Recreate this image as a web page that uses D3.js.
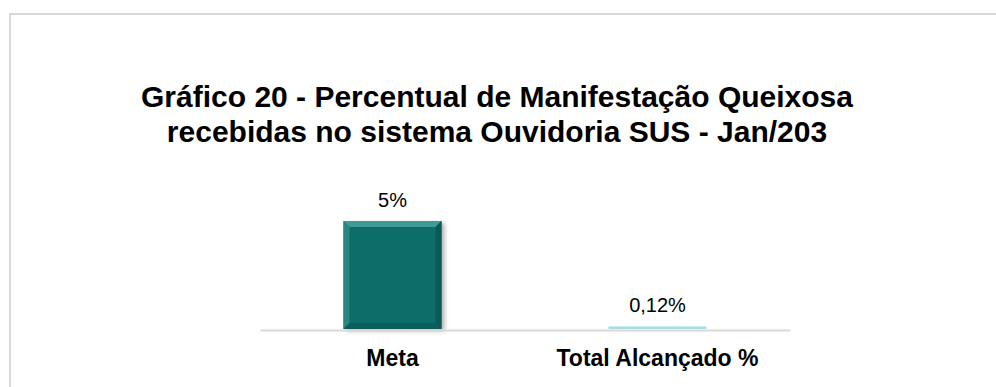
<!DOCTYPE html>
<html>
<head>
<meta charset="utf-8">
<script src="https://cdn.jsdelivr.net/npm/d3@7"></script>
<style>
  body { margin: 0; background: #fff; }
  text { font-family: "Liberation Sans", Arial, sans-serif; }
</style>
</head>
<body>
<script>
var categories = ["Meta", "Total Alcançado %"];
var values = [5, 0.12];
var valueLabels = ["5%", "0,12%"];
var titleLines = ["Gráfico 20 - Percentual de Manifestação Queixosa",
                  "recebidas no sistema Ouvidoria SUS - Jan/203"];

var w = 996, h = 387;

var svg = d3.select("body").append("svg")
    .attr("width", w)
    .attr("height", h);

var defs = svg.append("defs");
var f = defs.append("filter").attr("id", "shadow")
    .attr("x", "-20%").attr("y", "-20%").attr("width", "140%").attr("height", "140%");
f.append("feDropShadow").attr("dx", 3).attr("dy", 2).attr("stdDeviation", 2)
    .attr("flood-color", "#000").attr("flood-opacity", 0.3);

// chart border (runs off the right/bottom)
svg.append("rect")
    .attr("x", 10).attr("y", 14)
    .attr("width", 1000).attr("height", 400)
    .attr("fill", "none")
    .attr("stroke", "#d9d9d9")
    .attr("stroke-width", 2);

svg.append("g").selectAll("text")
    .data(titleLines)
  .enter().append("text")
    .attr("x", 497)
    .attr("y", function(d, i) { return 107 + i * 35; })
    .attr("text-anchor", "middle")
    .style("font-size", "30px")
    .style("font-weight", "bold")
    .attr("fill", "#000")
    .text(function(d) { return d; });

var x = d3.scaleBand()
    .domain(categories)
    .range([260, 790])
    .paddingInner(0.63)
    .paddingOuter(0.315);

var y = d3.scaleLinear()
    .domain([0, 6])
    .range([329, 329 - 108 * 6 / 5]);

var bars = svg.append("g").selectAll("g.bar")
    .data(values)
  .enter().append("g")
    .attr("class", "bar");

bars.append("rect")
    .attr("x", function(d, i) { return x(categories[i]); })
    .attr("y", function(d) { return y(d); })
    .attr("width", x.bandwidth())
    .attr("height", function(d) { return Math.max(1.5, y(0) - y(d)); })
    .attr("fill", function(d, i) { return i == 0 ? "#0f6e69" : "#a9dbe6"; })
    .attr("filter", function(d, i) { return i == 0 ? "url(#shadow)" : null; });

// bevel edges on the big bar
var bev = 6;
var big = bars.filter(function(d) { return y(0) - y(d) > 20; });
function bevel(d, side) {
  var x0 = x(categories[values.indexOf(d)]), x1 = x0 + x.bandwidth(),
      y0 = y(d), y1 = y(0);
  if (side == "top") return [[x0, y0], [x1, y0], [x1 - bev, y0 + bev], [x0 + bev, y0 + bev]];
  if (side == "left") return [[x0, y0], [x0 + bev, y0 + bev], [x0 + bev, y1 - bev], [x0, y1]];
  if (side == "right") return [[x1, y0], [x1 - bev, y0 + bev], [x1 - bev, y1 - bev], [x1, y1]];
  return [[x0, y1], [x0 + bev, y1 - bev], [x1 - bev, y1 - bev], [x1, y1]];
}
[["top", "#3d9a94"], ["left", "#2a8680"], ["right", "#0a5954"], ["bottom", "#0b5e59"]].forEach(function(s) {
  big.append("polygon")
      .attr("points", function(d) { return bevel(d, s[0]).join(" "); })
      .attr("fill", s[1]);
});

bars.append("text")
    .attr("x", function(d, i) { return x(categories[i]) + x.bandwidth() / 2; })
    .attr("y", function(d) { return y(d) - 14; })
    .attr("text-anchor", "middle")
    .style("font-size", "20px")
    .attr("fill", "#000")
    .text(function(d, i) { return valueLabels[i]; });

// baseline + category labels
var axis = svg.append("g")
    .attr("transform", "translate(0," + (y(0) + 1) + ")")
    .call(d3.axisBottom(x).tickSize(0).tickPadding(20));
axis.select(".domain").attr("stroke", "#d9d9d9").attr("stroke-width", 2);
axis.selectAll("text")
    .style("font-size", "23px")
    .style("font-weight", "bold")
    .style("font-family", "'Liberation Sans', Arial, sans-serif")
    .attr("fill", "#000");
</script>
</body>
</html>
